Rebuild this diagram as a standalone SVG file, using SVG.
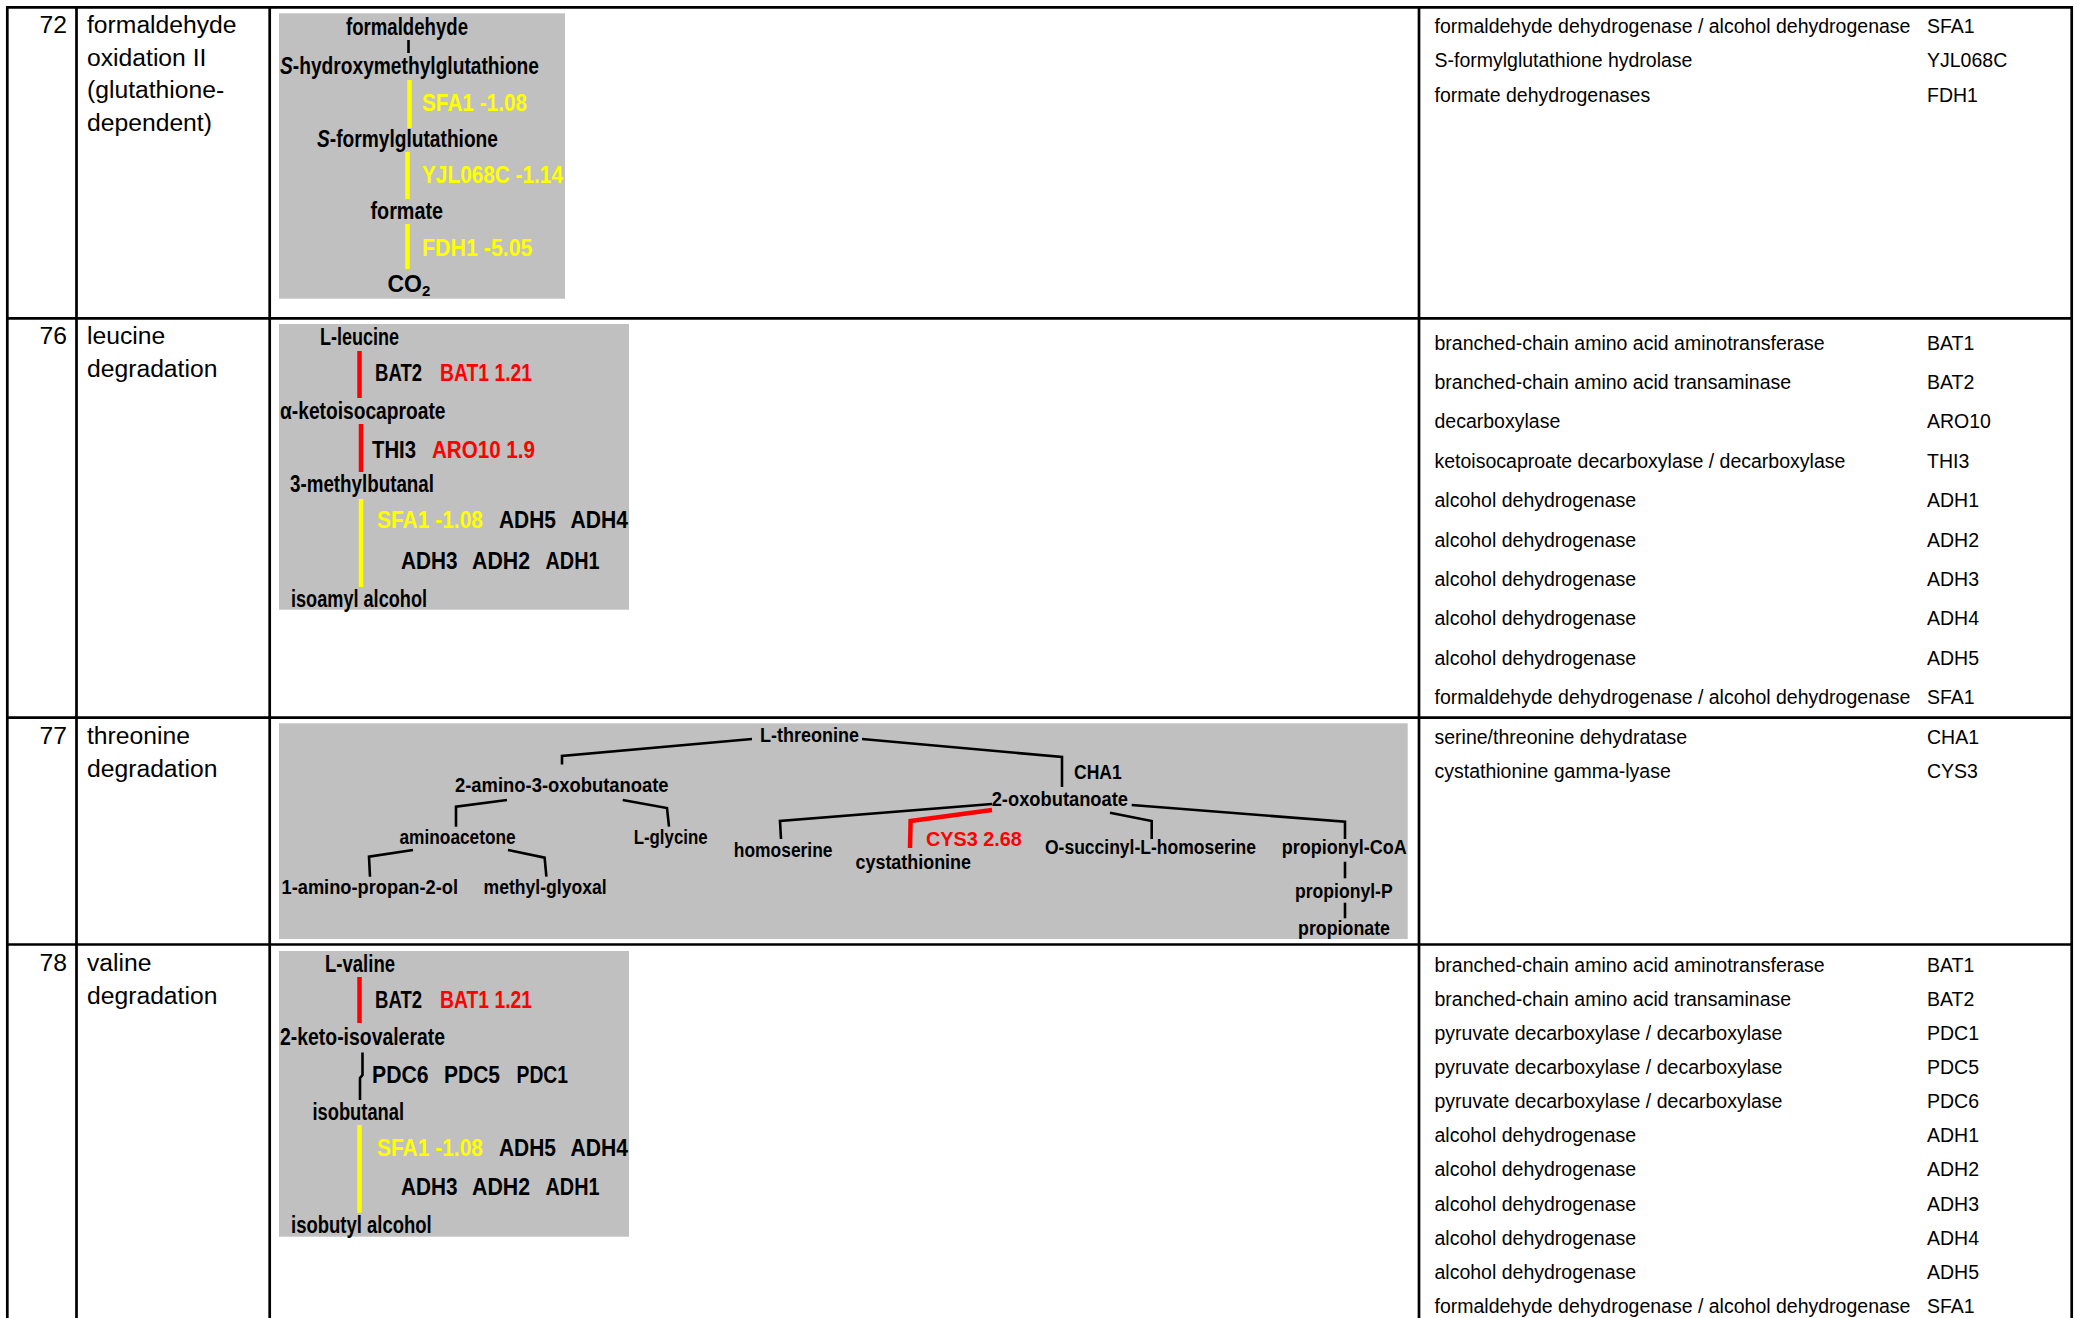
<svg xmlns="http://www.w3.org/2000/svg" width="2082" height="1318" viewBox="0 0 2082 1318">
<style>
.grid{stroke:#000;stroke-width:2.7;fill:none}
.t{font-family:"Liberation Sans",Arial,sans-serif;font-size:19.5px;fill:#000}
.lc{font-family:"Liberation Sans",Arial,sans-serif;font-size:24.7px;fill:#000}
.p{font-family:"Liberation Sans",Arial,sans-serif;font-weight:bold;font-size:23px;fill:#000}
.pt{font-family:"Liberation Sans",Arial,sans-serif;font-weight:bold;font-size:20px;fill:#000}
.y{fill:#FFFF00}
.r{fill:#FF0000}
.bg{fill:#C0C0C0}
.ly{stroke:#FFFF00;stroke-width:4.5;fill:none}
.lr{stroke:#FF0000;stroke-width:4.5;fill:none}
.lk{stroke:#000;stroke-width:2.6;fill:none}
</style>
<rect width="2082" height="1318" fill="#fff"/>

<g id="table-grid" class="grid">
<path d="M7.3 7.3H2071.7M7.3 318.3H2071.7M7.3 717.7H2071.7M7.3 944.5H2071.7"/>
<path d="M7.3 6V1318M76.5 6V1318M269.7 6V1318M1419 6V1318M2071.7 6V1318"/>
</g>

<g id="row72-labels">
<text class="lc" x="67" y="33" text-anchor="end">72</text>
<text class="lc" x="87" y="33">formaldehyde</text>
<text class="lc" x="87" y="65.5">oxidation II</text>
<text class="lc" x="87" y="98">(glutathione-</text>
<text class="lc" x="87" y="130.5">dependent)</text>
</g>
<g id="row76-labels">
<text class="lc" x="67" y="344" text-anchor="end">76</text>
<text class="lc" x="87" y="344">leucine</text>
<text class="lc" x="87" y="377">degradation</text>
</g>
<g id="row77-labels">
<text class="lc" x="67" y="744" text-anchor="end">77</text>
<text class="lc" x="87" y="744">threonine</text>
<text class="lc" x="87" y="777">degradation</text>
</g>
<g id="row78-labels">
<text class="lc" x="67" y="970.5" text-anchor="end">78</text>
<text class="lc" x="87" y="970.5">valine</text>
<text class="lc" x="87" y="1003.5">degradation</text>
</g>

<g id="row72-enzymes" class="t">
<text x="1434.5" y="32.5">formaldehyde dehydrogenase / alcohol dehydrogenase</text><text x="1927" y="32.5">SFA1</text>
<text x="1434.5" y="67">S-formylglutathione hydrolase</text><text x="1927" y="67">YJL068C</text>
<text x="1434.5" y="101.5">formate dehydrogenases</text><text x="1927" y="101.5">FDH1</text>
</g>
<g id="row76-enzymes" class="t">
<text x="1434.5" y="349.5">branched-chain amino acid aminotransferase</text><text x="1927" y="349.5">BAT1</text>
<text x="1434.5" y="388.9">branched-chain amino acid transaminase</text><text x="1927" y="388.9">BAT2</text>
<text x="1434.5" y="428.3">decarboxylase</text><text x="1927" y="428.3">ARO10</text>
<text x="1434.5" y="467.7">ketoisocaproate decarboxylase / decarboxylase</text><text x="1927" y="467.7">THI3</text>
<text x="1434.5" y="507.1">alcohol dehydrogenase</text><text x="1927" y="507.1">ADH1</text>
<text x="1434.5" y="546.5">alcohol dehydrogenase</text><text x="1927" y="546.5">ADH2</text>
<text x="1434.5" y="585.9">alcohol dehydrogenase</text><text x="1927" y="585.9">ADH3</text>
<text x="1434.5" y="625.3">alcohol dehydrogenase</text><text x="1927" y="625.3">ADH4</text>
<text x="1434.5" y="664.7">alcohol dehydrogenase</text><text x="1927" y="664.7">ADH5</text>
<text x="1434.5" y="704.1">formaldehyde dehydrogenase / alcohol dehydrogenase</text><text x="1927" y="704.1">SFA1</text>
</g>
<g id="row77-enzymes" class="t">
<text x="1434.5" y="743.5">serine/threonine dehydratase</text><text x="1927" y="743.5">CHA1</text>
<text x="1434.5" y="778">cystathionine gamma-lyase</text><text x="1927" y="778">CYS3</text>
</g>
<g id="row78-enzymes" class="t">
<text x="1434.5" y="971.5">branched-chain amino acid aminotransferase</text><text x="1927" y="971.5">BAT1</text>
<text x="1434.5" y="1005.6">branched-chain amino acid transaminase</text><text x="1927" y="1005.6">BAT2</text>
<text x="1434.5" y="1039.8">pyruvate decarboxylase / decarboxylase</text><text x="1927" y="1039.8">PDC1</text>
<text x="1434.5" y="1073.9">pyruvate decarboxylase / decarboxylase</text><text x="1927" y="1073.9">PDC5</text>
<text x="1434.5" y="1108.1">pyruvate decarboxylase / decarboxylase</text><text x="1927" y="1108.1">PDC6</text>
<text x="1434.5" y="1142.2">alcohol dehydrogenase</text><text x="1927" y="1142.2">ADH1</text>
<text x="1434.5" y="1176.4">alcohol dehydrogenase</text><text x="1927" y="1176.4">ADH2</text>
<text x="1434.5" y="1210.5">alcohol dehydrogenase</text><text x="1927" y="1210.5">ADH3</text>
<text x="1434.5" y="1244.7">alcohol dehydrogenase</text><text x="1927" y="1244.7">ADH4</text>
<text x="1434.5" y="1278.8">alcohol dehydrogenase</text><text x="1927" y="1278.8">ADH5</text>
<text x="1434.5" y="1313">formaldehyde dehydrogenase / alcohol dehydrogenase</text><text x="1927" y="1313">SFA1</text>
</g>

<g id="pathway-backgrounds">
<rect class="bg" x="279" y="13.3" width="286" height="285.4"/>
<rect class="bg" x="279" y="324" width="350" height="285.7"/>
<rect class="bg" x="279" y="723.3" width="1128.7" height="215.7"/>
<rect class="bg" x="279" y="951" width="350" height="285.7"/>
</g>

<g id="connectors">
<path class="lk" d="M408.5 40V53"/>
<path class="ly" d="M409.5 80V128"/>
<path class="ly" d="M407.5 152V199"/>
<path class="ly" d="M407.5 224V269"/>

<path class="lr" d="M359.5 351V398"/>
<path class="lr" d="M361 424V472"/>
<path class="ly" d="M361 499V587"/>

<path class="lk" d="M752 739L562 756V764.5"/>
<path class="lk" d="M862 739L1062 757V787"/>
<path class="lk" d="M507 800L456 806.7V826.7"/>
<path class="lk" d="M622.7 800L667 808L669 826.7"/>
<path class="lk" d="M413 850L369 856.7L370 876.7"/>
<path class="lk" d="M508 850L544.6 857.7L546.4 876.7"/>
<path class="lk" d="M992 804L780 821L781 839"/>
<path class="lr" d="M992 810L910.6 821L910 848"/>
<path class="lk" d="M1131.7 805L1345 821.7V839"/>
<path class="lk" d="M1110 812.7L1151.7 821V839"/>
<path class="lk" d="M1345 861.7V878.3"/>
<path class="lk" d="M1345 902.7V918.3"/>

<path class="lr" d="M359.5 977V1023"/>
<path class="lk" d="M362.5 1052.5V1075L360 1078V1100"/>
<path class="ly" d="M359.5 1125V1212.7"/>
</g>

<g id="pw72">
<g id="n-formaldehyde"><text class="p" x="346" y="35" textLength="122" lengthAdjust="spacingAndGlyphs">formaldehyde</text></g>
<g id="n-s-hydroxymethylglutathione"><text class="p" x="280" y="74" textLength="259" lengthAdjust="spacingAndGlyphs"><tspan font-style="italic">S</tspan>-hydroxymethylglutathione</text></g>
<g id="e-sfa1-72"><text class="p y" x="422" y="111" textLength="105" lengthAdjust="spacingAndGlyphs">SFA1 -1.08</text></g>
<g id="n-s-formylglutathione"><text class="p" x="317" y="146.5" textLength="181" lengthAdjust="spacingAndGlyphs"><tspan font-style="italic">S</tspan>-formylglutathione</text></g>
<g id="e-yjl068c"><text class="p y" x="422" y="182.7" textLength="141" lengthAdjust="spacingAndGlyphs">YJL068C -1.14</text></g>
<g id="n-formate"><text class="p" x="370.5" y="219.3" textLength="72.5" lengthAdjust="spacingAndGlyphs">formate</text></g>
<g id="e-fdh1"><text class="p y" x="422" y="255.7" textLength="110.5" lengthAdjust="spacingAndGlyphs">FDH1 -5.05</text></g>
<g id="n-co2"><text class="p" x="387.5" y="291.7">CO<tspan dy="4" font-size="15">2</tspan></text></g>
</g>

<g id="pw76">
<g id="n-l-leucine"><text class="p" x="320" y="345" textLength="79" lengthAdjust="spacingAndGlyphs">L-leucine</text></g>
<g id="e-bat-76"><text class="p" x="375" y="380.7" textLength="47" lengthAdjust="spacingAndGlyphs">BAT2</text><text class="p r" x="440" y="380.7" textLength="92" lengthAdjust="spacingAndGlyphs">BAT1 1.21</text></g>
<g id="n-ketoisocaproate"><text class="p" x="280" y="419.3" textLength="165.5" lengthAdjust="spacingAndGlyphs">α-ketoisocaproate</text></g>
<g id="e-thi3"><text class="p" x="372" y="457.7" textLength="44" lengthAdjust="spacingAndGlyphs">THI3</text><text class="p r" x="432" y="457.7" textLength="103" lengthAdjust="spacingAndGlyphs">ARO10 1.9</text></g>
<g id="n-3-methylbutanal"><text class="p" x="290" y="491.7" textLength="144" lengthAdjust="spacingAndGlyphs">3-methylbutanal</text></g>
<g id="e-adh-76">
<text class="p y" x="377" y="527.7" textLength="106" lengthAdjust="spacingAndGlyphs">SFA1 -1.08</text>
<text class="p" x="499" y="527.7" textLength="57" lengthAdjust="spacingAndGlyphs">ADH5</text>
<text class="p" x="570.5" y="527.7" textLength="57.5" lengthAdjust="spacingAndGlyphs">ADH4</text>
<text class="p" x="401" y="569" textLength="56.5" lengthAdjust="spacingAndGlyphs">ADH3</text>
<text class="p" x="472" y="569" textLength="58" lengthAdjust="spacingAndGlyphs">ADH2</text>
<text class="p" x="545.5" y="569" textLength="54" lengthAdjust="spacingAndGlyphs">ADH1</text>
</g>
<g id="n-isoamyl-alcohol"><text class="p" x="291" y="607.3" textLength="136" lengthAdjust="spacingAndGlyphs">isoamyl alcohol</text></g>
</g>

<g id="pw77">
<g id="n-l-threonine"><text class="pt" x="760" y="742" textLength="99" lengthAdjust="spacingAndGlyphs">L-threonine</text></g>
<g id="e-cha1"><text class="pt" x="1074" y="779" textLength="47.7" lengthAdjust="spacingAndGlyphs" font-weight="normal">CHA1</text></g>
<g id="n-2-amino-3-oxobutanoate"><text class="pt" x="455" y="792.3" textLength="213.6" lengthAdjust="spacingAndGlyphs">2-amino-3-oxobutanoate</text></g>
<g id="n-aminoacetone"><text class="pt" x="399.5" y="844.3" textLength="116.2" lengthAdjust="spacingAndGlyphs">aminoacetone</text></g>
<g id="n-l-glycine"><text class="pt" x="633.7" y="844.3" textLength="73.9" lengthAdjust="spacingAndGlyphs">L-glycine</text></g>
<g id="n-1-amino-propan-2-ol"><text class="pt" x="281.5" y="894.3" textLength="176.5" lengthAdjust="spacingAndGlyphs">1-amino-propan-2-ol</text></g>
<g id="n-methyl-glyoxal"><text class="pt" x="483.5" y="894.3" textLength="123.1" lengthAdjust="spacingAndGlyphs">methyl-glyoxal</text></g>
<g id="n-2-oxobutanoate"><text class="pt" x="991.7" y="805.7" textLength="136.3" lengthAdjust="spacingAndGlyphs">2-oxobutanoate</text></g>
<g id="n-homoserine"><text class="pt" x="733.8" y="856.7" textLength="98.7" lengthAdjust="spacingAndGlyphs">homoserine</text></g>
<g id="e-cys3"><text class="pt r" x="926" y="846" textLength="95.7" lengthAdjust="spacingAndGlyphs" font-weight="normal">CYS3 2.68</text></g>
<g id="n-cystathionine"><text class="pt" x="855.5" y="869" textLength="115.5" lengthAdjust="spacingAndGlyphs">cystathionine</text></g>
<g id="n-o-succinyl-l-homoserine"><text class="pt" x="1045" y="854.3" textLength="211" lengthAdjust="spacingAndGlyphs">O-succinyl-L-homoserine</text></g>
<g id="n-propionyl-coa"><text class="pt" x="1281.7" y="854.3" textLength="125" lengthAdjust="spacingAndGlyphs">propionyl-CoA</text></g>
<g id="n-propionyl-p"><text class="pt" x="1295" y="897.7" textLength="97.7" lengthAdjust="spacingAndGlyphs">propionyl-P</text></g>
<g id="n-propionate"><text class="pt" x="1298" y="935" textLength="92" lengthAdjust="spacingAndGlyphs">propionate</text></g>
</g>

<g id="pw78">
<g id="n-l-valine"><text class="p" x="325" y="972.3" textLength="70" lengthAdjust="spacingAndGlyphs">L-valine</text></g>
<g id="e-bat-78"><text class="p" x="375" y="1008.3" textLength="47" lengthAdjust="spacingAndGlyphs">BAT2</text><text class="p r" x="440" y="1008.3" textLength="92" lengthAdjust="spacingAndGlyphs">BAT1 1.21</text></g>
<g id="n-2-keto-isovalerate"><text class="p" x="280" y="1045" textLength="165" lengthAdjust="spacingAndGlyphs">2-keto-isovalerate</text></g>
<g id="e-pdc">
<text class="p" x="372" y="1083.3" textLength="56.6" lengthAdjust="spacingAndGlyphs">PDC6</text>
<text class="p" x="444" y="1083.3" textLength="56" lengthAdjust="spacingAndGlyphs">PDC5</text>
<text class="p" x="516.5" y="1083.3" textLength="51.5" lengthAdjust="spacingAndGlyphs">PDC1</text>
</g>
<g id="n-isobutanal"><text class="p" x="312.5" y="1120" textLength="91.5" lengthAdjust="spacingAndGlyphs">isobutanal</text></g>
<g id="e-adh-78">
<text class="p y" x="377" y="1156" textLength="106" lengthAdjust="spacingAndGlyphs">SFA1 -1.08</text>
<text class="p" x="499" y="1156" textLength="57" lengthAdjust="spacingAndGlyphs">ADH5</text>
<text class="p" x="570.5" y="1156" textLength="57.5" lengthAdjust="spacingAndGlyphs">ADH4</text>
<text class="p" x="401" y="1195" textLength="56.5" lengthAdjust="spacingAndGlyphs">ADH3</text>
<text class="p" x="472" y="1195" textLength="58" lengthAdjust="spacingAndGlyphs">ADH2</text>
<text class="p" x="545.5" y="1195" textLength="54" lengthAdjust="spacingAndGlyphs">ADH1</text>
</g>
<g id="n-isobutyl-alcohol"><text class="p" x="291" y="1233.3" textLength="140.7" lengthAdjust="spacingAndGlyphs">isobutyl alcohol</text></g>
</g>
</svg>
